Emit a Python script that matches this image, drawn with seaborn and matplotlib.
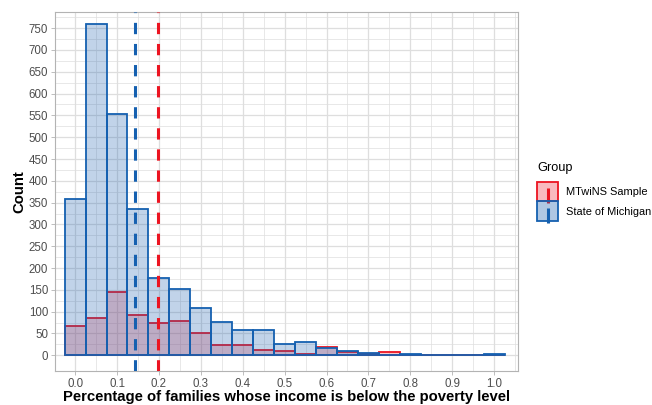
import numpy as np
import pandas as pd
import matplotlib
matplotlib.use("Agg")
import matplotlib.pyplot as plt
import seaborn as sns
from matplotlib.patches import Patch
from matplotlib.lines import Line2D
from matplotlib.legend_handler import HandlerTuple

# bin centres (width 0.05)
bin_centers = [0.00, 0.05, 0.10, 0.15, 0.20, 0.25, 0.30, 0.35, 0.40, 0.45, 0.50,
               0.55, 0.60, 0.65, 0.70, 0.75, 0.80, 0.85, 0.90, 0.95, 1.00]
michigan_counts = [358, 760, 553, 335, 177, 151, 108, 76, 58, 59, 27,
                   31, 17, 10, 5, 1, 2, 0, 0, 0, 3]
mtwins_counts = [68, 86, 144, 92, 75, 78, 52, 23, 23, 11, 10,
                 3, 20, 8, 3, 7, 0, 0, 0, 0, 0]
median_michigan = 0.143
median_mtwins = 0.198

groups = ["MTwiNS Sample", "State of Michigan"]
edge_colors = {"MTwiNS Sample": "#EC1421", "State of Michigan": "#1560B0"}
fill_colors = {"MTwiNS Sample": "#F03A4A", "State of Michigan": "#1A5FB0"}

plt.rcParams["font.family"] = ["Liberation Sans", "DejaVu Sans"]

df = pd.DataFrame({
    "x": bin_centers * 2,
    "count": mtwins_counts + michigan_counts,
    "group": ["MTwiNS Sample"] * len(bin_centers) + ["State of Michigan"] * len(bin_centers),
})

bin_edges = [round(c - 0.025, 3) for c in bin_centers] + [round(bin_centers[-1] + 0.025, 3)]

fig = plt.figure(figsize=(6.52, 4.05), dpi=100)
ax = fig.add_axes([55 / 652, 1 - 371 / 405, 463 / 652, 359 / 405])

# grid like theme_light
ax.set_axisbelow(True)
for g in np.arange(-0.05, 1.1, 0.05):
    ax.axvline(g, color="#DEDEDE", lw=0.9 if round(g * 20) % 2 == 0 else 0.5, zorder=0)
for g in np.arange(0, 800, 25):
    ax.axhline(g, color="#DEDEDE", lw=0.9 if g % 50 == 0 else 0.5, zorder=0)

for grp in groups:
    sub = df[df["group"] == grp]
    sns.histplot(data=sub, x="x", weights="count", bins=bin_edges, ax=ax,
                 color=fill_colors[grp], alpha=0.27,
                 edgecolor=edge_colors[grp], linewidth=1.3, zorder=2)

ax.axvline(median_michigan, color=edge_colors["State of Michigan"], lw=2.2,
           dashes=(3.7, 3.2), zorder=3)
ax.axvline(median_mtwins, color=edge_colors["MTwiNS Sample"], lw=2.2,
           dashes=(3.7, 3.2), zorder=3)

ax.set_xlim(-0.048, 1.057)
ax.set_ylim(-36, 787)
ax.set_xticks(np.round(np.arange(0, 1.01, 0.1), 1))
ax.set_xticklabels([f"{v:.1f}" for v in np.arange(0, 1.01, 0.1)])
ax.set_yticks(np.arange(0, 751, 50))

ax.tick_params(axis="both", colors="#B3B3B3", labelcolor="#4D4D4D",
               labelsize=8.3, length=3, width=0.6, pad=2)
for s in ax.spines.values():
    s.set_color("#B3B3B3")
    s.set_linewidth(0.8)

ax.set_xlabel("Percentage of families whose income is below the poverty level",
              fontsize=10.7, fontweight="bold", color="black", labelpad=0)
ax.set_ylabel("Count", fontsize=10.7, fontweight="bold", color="black", labelpad=1.5)

handles = []
for grp in groups:
    p = Patch(facecolor=matplotlib.colors.to_rgba(fill_colors[grp], 0.35),
              edgecolor=edge_colors[grp], linewidth=1.3)
    ln = Line2D([], [], linestyle="none", marker=[(0, 0), (0, -1)],
                markersize=22, markeredgewidth=2.2, markeredgecolor=edge_colors[grp])
    handles.append((p, ln))

leg = fig.legend(handles, groups, title="Group", loc="upper left",
                 bbox_to_anchor=(537 / 652, 1 - 162 / 405), frameon=False, fontsize=7.9,
                 title_fontsize=9.2, handler_map={tuple: HandlerTuple(ndivide=1)},
                 handlelength=1.95, handleheight=2.4, labelspacing=0.0,
                 handletextpad=0.65, borderpad=0, borderaxespad=0)
leg._legend_box.align = "left"
leg._legend_box.sep = 5.5

fig.savefig("out.png", dpi=100)
